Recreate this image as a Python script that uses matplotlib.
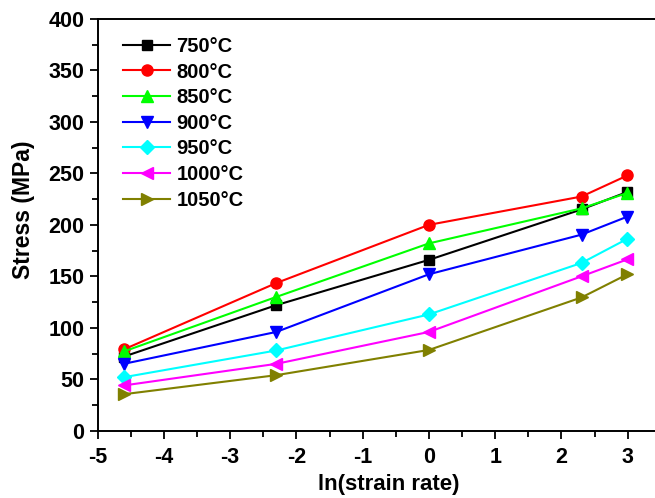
import numpy as np
import matplotlib
matplotlib.use("Agg")
import matplotlib.pyplot as plt
from matplotlib.ticker import MultipleLocator

plt.rcParams['font.family'] = ['Liberation Sans', 'DejaVu Sans']
plt.rcParams['font.weight'] = 'bold'
plt.rcParams['axes.unicode_minus'] = False

# ln(strain rate) for 0.01, 0.1, 1, 10, 20 s^-1
ln_rate = [-4.605, -2.303, 0.0, 2.303, 2.996]

labels = ['750°C', '800°C', '850°C', '900°C', '950°C', '1000°C', '1050°C']
stress_750 = [72, 122, 166, 215, 232]
stress_800 = [79, 143.5, 200, 227.5, 248]
stress_850 = [77, 130, 182, 216, 231]
stress_900 = [65, 96, 152, 190.5, 208]
stress_950 = [52, 78, 113, 163, 186.5]
stress_1000 = [44, 65, 96, 150, 166.5]
stress_1050 = [35.5, 54, 78.5, 129.5, 152]

series = [stress_750, stress_800, stress_850, stress_900,
          stress_950, stress_1000, stress_1050]
colors = ['#000000', '#ff0000', '#00ff00', '#0000ff',
          '#00ffff', '#ff00ff', '#808000']
markers = ['s', 'o', '^', 'v', 'D', '<', '>']
sizes = [7, 8, 8.5, 8.5, 7, 8.5, 8.5]

fig = plt.figure(figsize=(6.55, 4.98), dpi=100)
ax = fig.add_axes([0.149, 0.135, 0.86, 0.827])

for y, c, m, ms, lab in zip(series, colors, markers, sizes, labels):
    ax.plot(ln_rate, y, color=c, marker=m, markersize=ms, lw=1.5,
            markeredgecolor=c, label=lab)

ax.set_xlim(-5, 3.5)
ax.set_ylim(0, 400)
ax.xaxis.set_major_locator(MultipleLocator(1))
ax.xaxis.set_minor_locator(MultipleLocator(0.5))
ax.yaxis.set_major_locator(MultipleLocator(50))
ax.yaxis.set_minor_locator(MultipleLocator(25))
ax.tick_params(which='both', direction='out', width=1.3, labelsize=15.5)
ax.tick_params(which='major', length=6)
ax.tick_params(which='minor', length=4)
ax.tick_params(axis='x', which='major', pad=5.5)
ax.tick_params(axis='y', which='major', pad=3.5)
for s in ax.spines.values():
    s.set_linewidth(1.4)

ax.set_xlabel('ln(strain rate)', fontsize=16, fontweight='bold')
ax.set_ylabel('Stress (MPa)', fontsize=16.5, fontweight='bold')
ax.xaxis.set_label_coords(0.516, -0.106)
ax.yaxis.set_label_coords(-0.112, 0.537)

ax.legend(loc='upper left', bbox_to_anchor=(0.031, 0.976), frameon=False,
          fontsize=14.5, handlelength=2.35, handletextpad=0.3,
          labelspacing=0.33, borderaxespad=0)

fig.savefig('out.png', dpi=100)
